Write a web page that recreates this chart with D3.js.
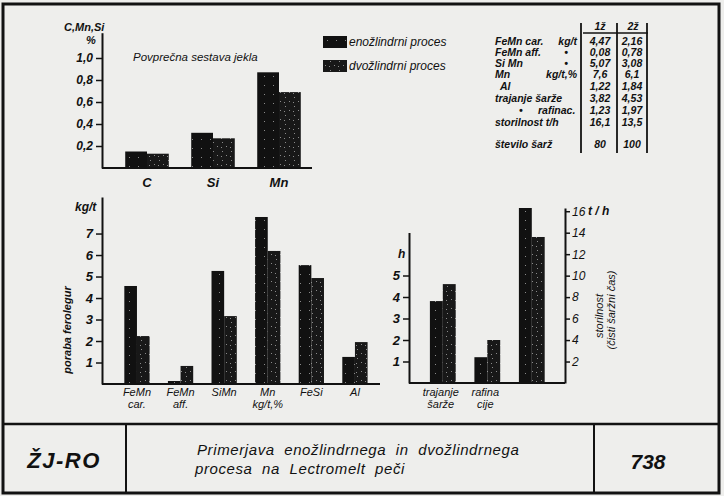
<!DOCTYPE html>
<html><head><meta charset="utf-8">
<script src="https://cdn.jsdelivr.net/npm/d3@7"></script>
<style>
html,body{margin:0;padding:0;background:#eeeeec;}
svg{display:block;}
text{font-family:"Liberation Sans","DejaVu Sans",sans-serif;font-style:italic;fill:#111;}
.narrow{font-family:"Liberation Sans Narrow","Liberation Sans",sans-serif;}
</style></head>
<body>
<svg id="c" width="724" height="496"></svg>
<script>
// ---- data ----
const topCats = ["C", "Si", "Mn"];
const topEno = [0.15, 0.32, 0.87];
const topDvo = [0.13, 0.27, 0.69];
const topTicks = [0.2, 0.4, 0.6, 0.8, 1.0];

const ferroCats = ["FeMn car.", "FeMn aff.", "SiMn", "Mn kg/t,%", "FeSi", "Al"];
const ferroLabels = [["FeMn", "car."], ["FeMn", "aff."], ["SiMn"], ["Mn", "kg/t,%"], ["FeSi"], ["Al"]];
const ferroEno = [4.56, 0.14, 5.26, 7.77, 5.53, 1.26];
const ferroDvo = [2.23, 0.84, 3.16, 6.19, 4.93, 1.95];
const ferroTicks = [1, 2, 3, 4, 5, 6, 7];

const timeCats = ["trajanje šarže", "rafinacije", "storilnost"];
const timeLabels = [["trajanje", "šarže"], ["rafina", "cije"], []];
const timeEno = [3.81, 1.20, 16.3];
const timeDvo = [4.60, 2.00, 13.6];
const timeAxis = ["h", "h", "t/h"];
const hTicks = [1, 2, 3, 4, 5];
const thTicks = [2, 4, 6, 8, 10, 12, 14, 16];

const seriesNames = ["enožlindrni proces", "dvožlindrni proces"];

const tableHead = ["1ž", "2ž"];
const tableNames = ["FeMn car.", "FeMn aff.", "Si Mn", "Mn", "Al", "trajanje šarže", "rafinac.", "storilnost t/h", "število šarž"];
const tableUnits = ["kg/t", "•", "•", "kg/t,%", "", "", "", "", ""];
const table1 = ["4,47", "0,08", "5,07", "7,6", "1,22", "3,82", "1,23", "16,1", "80"];
const table2 = ["2,16", "0,78", "3,08", "6,1", "1,84", "4,53", "1,97", "13,5", "100"];

const footerCode = "ŽJ-RO";
const footerTitle = ["Primerjava  enožlindrnega  in  dvožlindrnega", "procesa  na  Lectromelt  peči"];
const footerNum = "738";

// ---- drawing ----
const svg = d3.select("#c");
const ink = "#121212";

// patterns for speckled bars
const defs = svg.append("defs");
function speck(id, bg, dots) {
  const p = defs.append("pattern").attr("id", id).attr("patternUnits", "userSpaceOnUse")
    .attr("width", 9).attr("height", 9);
  p.append("rect").attr("width", 9).attr("height", 9).attr("fill", bg);
  dots.forEach(([x, y]) => p.append("rect").attr("x", x).attr("y", y).attr("width", 1).attr("height", 1).attr("fill", "#8a8a8a"));
}
speck("p1", "#111", [[3, 4]]);
speck("p2", "#181818", [[1, 2], [6, 7], [5, 3]]);
const fills = ["url(#p1)", "url(#p2)"];

// frame
svg.append("rect").attr("x", 3).attr("y", 4).attr("width", 716).attr("height", 489)
  .attr("fill", "none").attr("stroke", ink).attr("stroke-width", 3);
svg.append("line").attr("x1", 3).attr("x2", 719).attr("y1", 424).attr("y2", 424).attr("stroke", ink).attr("stroke-width", 2.5);
svg.append("line").attr("x1", 126).attr("x2", 126).attr("y1", 424).attr("y2", 493).attr("stroke", ink).attr("stroke-width", 2);
svg.append("line").attr("x1", 594).attr("x2", 594).attr("y1", 424).attr("y2", 493).attr("stroke", ink).attr("stroke-width", 2);

function styleAxis(g, fs) {
  g.select(".domain").attr("stroke", ink).attr("stroke-width", 2);
  g.selectAll(".tick line").attr("stroke", ink).attr("stroke-width", 1.5);
  g.selectAll(".tick text").attr("fill", ink).style("font-size", fs + "px").style("font-weight", "bold").style("font-style", "italic");
}

function groupedBars(cats, a, b, x, yFor) {
  const inner = d3.scaleBand().domain([0, 1]).range([0, x.bandwidth()]).padding(0);
  cats.forEach((c, i) => {
    [a[i], b[i]].forEach((v, s) => {
      const y = yFor(i);
      svg.append("rect").attr("x", x(c) + inner(s)).attr("width", inner.bandwidth())
        .attr("y", y(v)).attr("height", y(0) - y(v)).attr("fill", fills[s]);
    });
  });
}

// ===== top chart =====
const yTop = d3.scaleLinear().domain([0, 1.23]).range([168, 32.7]);
const xTop = d3.scaleBand().domain(topCats).range([114, 312]).paddingInner(0.34).paddingOuter(0.17);
groupedBars(topCats, topEno, topDvo, xTop, () => yTop);
const gT = svg.append("g").attr("transform", "translate(102,0)")
  .call(d3.axisLeft(yTop).tickValues(topTicks).tickSize(6).tickSizeOuter(0).tickPadding(3).tickFormat(d => d3.format(".1f")(d).replace(".", ",")));
styleAxis(gT, 12);
svg.append("line").attr("x1", 102).attr("x2", 312).attr("y1", yTop(0)).attr("y2", yTop(0)).attr("stroke", ink).attr("stroke-width", 2);
topCats.forEach(c => svg.append("text").attr("x", xTop(c) + xTop.bandwidth() / 2).attr("y", 187)
  .attr("text-anchor", "middle").style("font-size", "13px").style("font-weight", "bold").text(c));
svg.append("text").attr("x", 64).attr("y", 31).style("font-size", "11px").style("font-weight", "bold").text("C,Mn,Si");
svg.append("text").attr("x", 86).attr("y", 44).style("font-size", "11px").style("font-weight", "bold").text("%");
svg.append("text").attr("x", 133).attr("y", 61).style("font-size", "11.5px").text("Povprečna  sestava  jekla");

// legend
seriesNames.forEach((n, i) => {
  svg.append("rect").attr("x", 323).attr("y", 36 + i * 24).attr("width", 24).attr("height", 12).attr("fill", fills[i]);
  svg.append("text").attr("x", 349).attr("y", 46 + i * 24).style("font-size", "12px").text(n);
});

// ===== table =====
const rowY = [45, 56, 67, 78, 90, 102, 114, 126, 148];
const tfs = "10.5px";
svg.append("text").attr("class", "narrow").attr("x", 600).attr("y", 30).attr("text-anchor", "middle").style("font-size", tfs).style("font-weight", "bold").text(tableHead[0]);
svg.append("text").attr("class", "narrow").attr("x", 633).attr("y", 30).attr("text-anchor", "middle").style("font-size", tfs).style("font-weight", "bold").text(tableHead[1]);
svg.append("line").attr("x1", 583).attr("x2", 648).attr("y1", 33).attr("y2", 33).attr("stroke", ink).attr("stroke-width", 1.5);
[581, 617, 647].forEach(x => svg.append("line").attr("x1", x).attr("x2", x).attr("y1", 23).attr("y2", 153).attr("stroke", ink).attr("stroke-width", 1.8));
tableNames.forEach((n, i) => {
  const t = (x, s, anchor) => svg.append("text").attr("class", "narrow").attr("x", x).attr("y", rowY[i])
    .attr("text-anchor", anchor || "start").style("font-size", tfs).style("font-weight", "bold").text(s);
  if (n === "rafinac.") {
    t(519, "•");
    t(538, n);
  } else {
    t(i === 4 ? 500 : 495, n);
  }
  if (tableUnits[i]) t(tableUnits[i] === "•" ? 566 : 577, tableUnits[i], tableUnits[i] === "•" ? "middle" : "end");
  t(600, table1[i], "middle");
  t(632, table2[i], "middle");
});

// ===== bottom-left chart =====
const yF = d3.scaleLinear().domain([0, 8.7]).range([384, 197]);
const xF = d3.scaleBand().domain(ferroCats).range([115.6, 376.3]).paddingInner(0.42).paddingOuter(0.2);
groupedBars(ferroCats, ferroEno, ferroDvo, xF, () => yF);
const gF = svg.append("g").attr("transform", "translate(102,0)")
  .call(d3.axisLeft(yF).tickValues(ferroTicks).tickSize(6).tickSizeOuter(0).tickPadding(3).tickFormat(d3.format("d")));
styleAxis(gF, 13);
svg.append("line").attr("x1", 102).attr("x2", 380).attr("y1", yF(0)).attr("y2", yF(0)).attr("stroke", ink).attr("stroke-width", 2);
ferroCats.forEach((c, i) => {
  ferroLabels[i].forEach((l, k) => svg.append("text").attr("x", xF(c) + xF.bandwidth() / 2).attr("y", 396 + k * 12)
    .attr("text-anchor", "middle").style("font-size", "11px").text(l));
});
svg.append("text").attr("x", 75).attr("y", 211).style("font-size", "12px").style("font-weight", "bold").text("kg/t");
svg.append("text").attr("transform", "translate(71,330) rotate(-90)").attr("text-anchor", "middle")
  .style("font-size", "11px").style("font-weight", "bold").text("poraba ferolegur");

// ===== bottom-right chart =====
const yH = d3.scaleLinear().domain([0, 7]).range([383, 232.5]);
const yT = d3.scaleLinear().domain([0, 16.3]).range([383, 208]);
const xR = d3.scaleBand().domain(timeCats).range([421, 553.6]).paddingInner(0.42).paddingOuter(0.2);
groupedBars(timeCats, timeEno, timeDvo, xR, i => timeAxis[i] === "h" ? yH : yT);
const gH = svg.append("g").attr("transform", "translate(409,0)")
  .call(d3.axisLeft(yH).tickValues(hTicks).tickSize(6).tickSizeOuter(0).tickPadding(3).tickFormat(d3.format("d")));
styleAxis(gH, 13);
const gR = svg.append("g").attr("transform", "translate(565,0)")
  .call(d3.axisRight(yT).tickValues(thTicks).tickSize(5).tickSizeOuter(0).tickPadding(2).tickFormat(d3.format("d")));
styleAxis(gR, 12);
gR.selectAll(".tick text").style("font-weight", "normal");
svg.append("line").attr("x1", 409).attr("x2", 565).attr("y1", yH(0)).attr("y2", yH(0)).attr("stroke", ink).attr("stroke-width", 2);
timeCats.forEach((c, i) => {
  timeLabels[i].forEach((l, k) => svg.append("text").attr("x", xR(c) + xR.bandwidth() / 2 - 2).attr("y", 396 + k * 12)
    .attr("text-anchor", "middle").style("font-size", "11px").text(l));
});
svg.append("text").attr("x", 398).attr("y", 258).style("font-size", "12px").style("font-weight", "bold").text("h");
svg.append("text").attr("x", 588).attr("y", 215).style("font-size", "12px").style("font-weight", "bold").text("t / h");
svg.append("text").attr("transform", "translate(603,316) rotate(-90)").attr("text-anchor", "middle")
  .style("font-size", "11px").text("storilnost");
svg.append("text").attr("transform", "translate(615,310) rotate(-90)").attr("text-anchor", "middle")
  .style("font-size", "11px").text("(čisti  šaržni  čas)");

// ===== footer =====
svg.append("text").attr("x", 64).attr("y", 468).attr("text-anchor", "middle")
  .style("font-size", "22px").style("font-weight", "bold").style("letter-spacing", "1.5px").text(footerCode);
footerTitle.forEach((t, i) => svg.append("text").attr("x", 197 + (i ? -2 : 0)).attr("y", 455 + i * 19)
  .style("font-size", "15px").style("letter-spacing", "0.6px").style("white-space", "pre").text(t));
svg.append("text").attr("x", 648).attr("y", 469).attr("text-anchor", "middle")
  .style("font-size", "21px").style("font-weight", "bold").text(footerNum);
</script>
</body></html>
